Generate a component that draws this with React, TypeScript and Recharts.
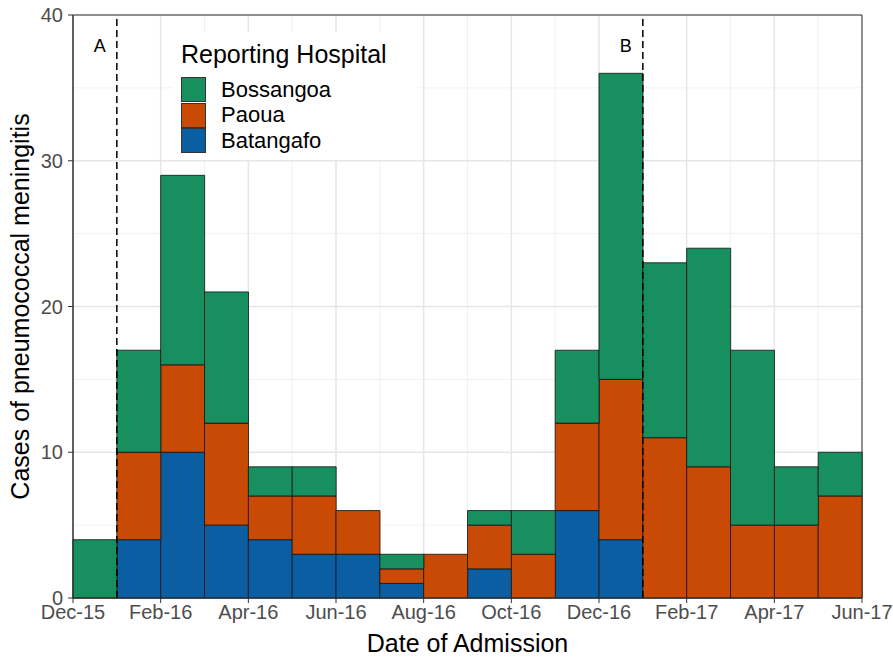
import React from 'react';
import {
  ComposedChart,
  Bar,
  XAxis,
  YAxis,
  CartesianGrid,
  ReferenceLine,
  ReferenceArea,
} from 'recharts';

// monthly bins, Dec-15 .. May-17
const months = [
  'Dec-15', 'Jan-16', 'Feb-16', 'Mar-16', 'Apr-16', 'May-16', 'Jun-16', 'Jul-16', 'Aug-16',
  'Sep-16', 'Oct-16', 'Nov-16', 'Dec-16', 'Jan-17', 'Feb-17', 'Mar-17', 'Apr-17', 'May-17',
];
const batangafo = [0, 4, 10, 5, 4, 3, 3, 1, 0, 2, 0, 6, 4, 0, 0, 0, 0, 0];
const paoua = [0, 6, 6, 7, 3, 4, 3, 1, 3, 3, 3, 6, 11, 11, 9, 5, 5, 7];
const bossangoa = [4, 7, 13, 9, 2, 2, 0, 1, 0, 1, 3, 5, 21, 12, 15, 12, 4, 3];

const tickLabels = [
  'Dec-15', 'Feb-16', 'Apr-16', 'Jun-16', 'Aug-16', 'Oct-16', 'Dec-16', 'Feb-17', 'Apr-17', 'Jun-17',
];
const majorX = [0, 2, 4, 6, 8, 10, 12, 14, 16, 18];
const minorX = [1, 3, 5, 7, 9, 11, 13, 15, 17];
const majorY = [0, 10, 20, 30, 40];
const minorY = [5, 15, 25, 35];

const events = [
  { x: 1, label: 'A' },
  { x: 13, label: 'B' },
];

const hospitals = [
  { key: 'Bossangoa', color: '#178F5F' },
  { key: 'Paoua', color: '#C94A04' },
  { key: 'Batangafo', color: '#0B5EA2' },
];

// x = middle of the month bin (months since Dec 2015)
const data = months.map((m, i) => ({
  month: m,
  x: i + 0.5,
  Batangafo: batangafo[i],
  Paoua: paoua[i],
  Bossangoa: bossangoa[i],
}));

const FONT = '"Liberation Sans", Arial, Helvetica, sans-serif';

function LegendBox() {
  return (
    <div
      style={{
        position: 'absolute', left: 173, top: 32, width: 246, height: 128,
        background: 'white', fontFamily: FONT, boxSizing: 'border-box', paddingLeft: 8, color: '#000',
      }}
    >
      <div style={{ fontSize: 25, height: 45, lineHeight: '45px' }}>Reporting Hospital</div>
      {hospitals.map((h) => (
        <div key={h.key} style={{ display: 'flex', alignItems: 'center', height: 25.5 }}>
          <div style={{ width: 25, height: 25, background: h.color, border: '1px solid #333', boxSizing: 'border-box' }} />
          <span style={{ fontSize: 22, marginLeft: 15 }}>{h.key}</span>
        </div>
      ))}
    </div>
  );
}

const eventLabel = (text: string) => (props: any) => {
  const vb = props.viewBox || {};
  return (
    <text x={vb.x - 17} y={vb.y + 37} fontSize={18} fontFamily={FONT} textAnchor="middle" fill="#000">
      {text}
    </text>
  );
};

export default function App() {
  return (
    <div style={{ position: 'absolute', left: 0, top: 0, width: 893, height: 658, background: 'white' }}>
      <ComposedChart
        width={893}
        height={658}
        data={data}
        barCategoryGap={0}
        barGap={0}
        margin={{ top: 15, right: 31, bottom: 0, left: 0 }}
        style={{ fontFamily: FONT }}
      >
        <XAxis
          dataKey="x"
          type="number"
          domain={[0, 18]}
          ticks={majorX}
          interval={0}
          tickFormatter={(v: number) => tickLabels[majorX.indexOf(v)]}
          height={60}
          tickSize={5}
          tickMargin={2}
          fontSize={20}
          tick={{ fontSize: 20, fill: '#4d4d4d' }}
          axisLine={{ stroke: '#333' }}
          tickLine={{ stroke: '#333' }}
          label={{ value: 'Date of Admission', position: 'insideBottom', offset: 6, fontSize: 25, fill: '#000' }}
        />
        <YAxis
          domain={[0, 40]}
          ticks={majorY}
          interval={0}
          width={73}
          tickSize={5}
          tickMargin={5}
          fontSize={20}
          tick={{ fontSize: 20, fill: '#4d4d4d' }}
          axisLine={{ stroke: '#333' }}
          tickLine={{ stroke: '#333' }}
          label={{
            value: 'Cases of pneumococcal meningitis',
            angle: -90,
            position: 'insideLeft',
            offset: 20,
            style: { textAnchor: 'middle' },
            fontSize: 25,
            fill: '#000',
          }}
        />
        <CartesianGrid stroke="#ebebeb" strokeWidth={0.7} verticalValues={minorX} horizontalValues={minorY} />
        <CartesianGrid stroke="#e6e6e6" strokeWidth={1.5} verticalValues={majorX} horizontalValues={majorY} />
        <Bar dataKey="Batangafo" stackId="a" fill="#0B5EA2" stroke="#111" strokeWidth={0.8} isAnimationActive={false} />
        <Bar dataKey="Paoua" stackId="a" fill="#C94A04" stroke="#111" strokeWidth={0.8} isAnimationActive={false} />
        <Bar dataKey="Bossangoa" stackId="a" fill="#178F5F" stroke="#111" strokeWidth={0.8} isAnimationActive={false} />
        {events.map((e) => (
          <ReferenceLine
            key={e.label}
            x={e.x}
            stroke="#000"
            strokeWidth={1.5}
            strokeDasharray="7 4"
            label={eventLabel(e.label)}
          />
        ))}
        <ReferenceArea x1={0} x2={18} y1={0} y2={40} fill="none" stroke="#333" strokeWidth={1} />
      </ComposedChart>
      <LegendBox />
    </div>
  );
}
